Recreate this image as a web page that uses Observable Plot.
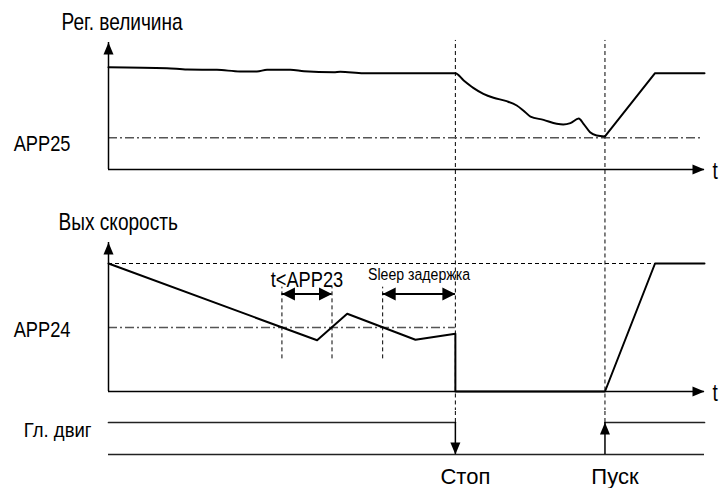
<!DOCTYPE html>
<html><head><meta charset="utf-8">
<script src="https://cdn.jsdelivr.net/npm/d3@7"></script>
<script src="https://cdn.jsdelivr.net/npm/@observablehq/plot@0.6"></script>
<style>
body{margin:0;background:#fff}
#chart svg{display:block}
</style></head><body><div id="chart"></div>
<script>
// ---- data (time in arbitrary units 0..100) ----
const tStop = 58.2, tStart = 83.3, tEnd = 100;
const eventTimes = [tStop, tStart];
const eventLabels = ["Стоп", "Пуск"];

// Panel 1: regulated value
const regSmooth = [
  [0,80.6],[9.8,79.8],[13.2,78.7],[18.2,78.5],[22.1,77.2],[24.9,77.2],[26.6,78.5],[30.5,78.5],
  [32.8,77.4],[37.8,76.6],[38.9,76.9],[42.8,75.8],[58.2,75.8],[59.6,70.1],[61.2,64.3],[62.9,59.6],
  [64.6,56.5],[66.8,53.8],[68.5,50.4],[69.6,46.5],[70.8,41.7],[73.0,39.1],[75.2,36.0],[76.3,35.4],
  [77.5,36.5],[78.9,40.2],[79.7,36.0],[80.8,29.4],[81.9,26.8],[83.3,26.0]
].map(([t,v]) => ({t,v}));
const regRamp = [[83.3,26.0],[91.7,75.8],[100,75.8]].map(([t,v]) => ({t,v}));
const app25 = 25;
const regAxisMax = 100;

// Panel 2: output speed
const speedLine = [[0,100],[35.0,40],[40.05,60.7],[51.5,40.4],[58.2,45.1],[58.2,0],[83.3,0],[91.7,100],[100,100]]
  .map(([t,v]) => ({t,v}));
const speedMax = 100, app24 = 50, speedAxisMax = 116.4;
const app23Span = [29.1, 37.5];
const sleepSpan = [46.0, 58.2];
const spanArrowLevel = 76.2;
const spanGuideRange = [25.5, 81.5];

// Panel 3: main motor (1 = on, 0 = off)
const motorOn = [{t:0,v:1,s:"a"},{t:58.2,v:1,s:"a"},{t:83.3,v:1,s:"b"},{t:100,v:1,s:"b"}];

// ---- styles ----
const narrow = "Liberation Sans, Arial, sans-serif";
const semi = "Liberation Sans,Arial,sans-serif";
const regular = "'Liberation Sans', Arial, sans-serif";
const headSym = (len, half) => ({draw(ctx){ctx.moveTo(0,0);ctx.lineTo(half,len);ctx.lineTo(-half,len);ctx.closePath();}});
const head = headSym(12, 5);
const bigHead = headSym(13, 6.5);
const dashDot = "9,3,2,3";
const common = {width: 726, marginLeft: 108, marginRight: 22, x: {domain: [0, tEnd], axis: null}};

// ---- panel 1 ----
const p1 = Plot.plot({
  ...common, height: 200, marginTop: 42, marginBottom: 31,
  y: {domain: [0, regAxisMax], axis: null},
  marks: [
    Plot.ruleX(eventTimes, {y1: -26, y2: 101.6, stroke: "#000", strokeWidth: 1, strokeDasharray: "4,3"}),
    Plot.ruleY([app25], {x1: 0, x2: 99.5, stroke: "#555", strokeWidth: 1.3, strokeDasharray: dashDot}),
    Plot.ruleX([0], {y1: 0, y2: regAxisMax, stroke: "#000", strokeWidth: 1.5}),
    Plot.ruleY([0], {x1: 0, x2: tEnd, stroke: "#000", strokeWidth: 1.5}),
    Plot.dot([{t:0,v:regAxisMax}], {x:"t", y:"v", symbol: head, r: 5, fill: "#000", stroke: null, rotate: 0}),
    Plot.dot([{t:tEnd,v:0}], {x:"t", y:"v", symbol: head, r: 5, fill: "#000", stroke: null, rotate: 90}),
    Plot.line(regSmooth, {x:"t", y:"v", curve: "monotone-x", stroke: "#000", strokeWidth: 2}),
    Plot.line(regRamp, {x:"t", y:"v", stroke: "#000", strokeWidth: 2}),
    Plot.text(["Рег. величина"], {x: 0, y: regAxisMax, dx: -47, dy: -13, textAnchor: "start", lineAnchor: "bottom", fontFamily: narrow, fontSize: 23, fill: "#000"}),
    Plot.text(["APP25"], {x: 0, y: app25, dx: -38, dy: 6, textAnchor: "end", lineAnchor: "middle", fontFamily: narrow, fontSize: 22, fill: "#000"}),
    Plot.text(["t"], {x: tEnd, y: 0, dx: 8, dy: 2, textAnchor: "start", lineAnchor: "middle", fontFamily: narrow, fontSize: 23, fill: "#000"})
  ]
});

// ---- panel 2 ----
const p2 = Plot.plot({
  ...common, height: 210, marginTop: 63, marginBottom: 19,
  y: {domain: [0, speedMax], axis: null},
  marks: [
    Plot.ruleX(eventTimes, {y1: -16, y2: 150, stroke: "#000", strokeWidth: 1, strokeDasharray: "4,3"}),
    Plot.ruleY([speedMax], {x1: 0, x2: tEnd, stroke: "#000", strokeWidth: 1, strokeDasharray: "4,3"}),
    Plot.ruleY([app24], {x1: 0, x2: tStop, stroke: "#555", strokeWidth: 1.3, strokeDasharray: dashDot}),
    Plot.ruleX([...app23Span, sleepSpan[0]], {y1: spanGuideRange[0], y2: spanGuideRange[1], stroke: "#000", strokeWidth: 1, strokeDasharray: "4,3"}),
    Plot.ruleY([app23Span, sleepSpan], {y: () => spanArrowLevel, x1: d => d[0], x2: d => d[1], stroke: "#000", strokeWidth: 2}),
    Plot.dot([app23Span[0], sleepSpan[0]], {x: d => d, y: () => spanArrowLevel, symbol: bigHead, r: 5, fill: "#000", stroke: null, rotate: -90}),
    Plot.dot([app23Span[1], sleepSpan[1]], {x: d => d, y: () => spanArrowLevel, symbol: bigHead, r: 5, fill: "#000", stroke: null, rotate: 90}),
    Plot.ruleX([0], {y1: 0, y2: speedAxisMax, stroke: "#000", strokeWidth: 1.5}),
    Plot.ruleY([0], {x1: 0, x2: tEnd, stroke: "#000", strokeWidth: 1.5}),
    Plot.dot([{t:0,v:speedAxisMax}], {x:"t", y:"v", symbol: head, r: 5, fill: "#000", stroke: null, rotate: 0}),
    Plot.dot([{t:tEnd,v:0}], {x:"t", y:"v", symbol: head, r: 5, fill: "#000", stroke: null, rotate: 90}),
    Plot.line(speedLine, {x:"t", y:"v", stroke: "#000", strokeWidth: 2}),
    Plot.text(["Вых скорость"], {x: 0, y: speedAxisMax, dx: -50, dy: -13, textAnchor: "start", lineAnchor: "bottom", fontFamily: narrow, fontSize: 23, fill: "#000"}),
    Plot.text(["APP24"], {x: 0, y: app24, dx: -38, dy: 2, textAnchor: "end", lineAnchor: "middle", fontFamily: narrow, fontSize: 22, fill: "#000"}),
    Plot.text(["t<APP23"], {x: (app23Span[0] + app23Span[1]) / 2, y: spanArrowLevel, dy: -14, textAnchor: "middle", lineAnchor: "middle", fontFamily: narrow, fontSize: 22, fill: "#000"}),
    Plot.text(["Sleep задержка"], {x: (sleepSpan[0] + sleepSpan[1]) / 2, y: spanArrowLevel, dy: -19, textAnchor: "middle", lineAnchor: "middle", fontFamily: narrow, fontSize: 17, fill: "#000"}),
    Plot.text(["t"], {x: tEnd, y: 0, dx: 8, dy: 2, textAnchor: "start", lineAnchor: "middle", fontFamily: narrow, fontSize: 23, fill: "#000"})
  ]
});

// ---- panel 3 ----
const p3 = Plot.plot({
  ...common, height: 78, marginTop: 12, marginBottom: 34,
  y: {domain: [0, 1], axis: null},
  marks: [
    Plot.ruleX(eventTimes, {y1: 1, y2: 1.5, stroke: "#000", strokeWidth: 1, strokeDasharray: "4,3"}),
    Plot.line(motorOn, {x:"t", y:"v", z:"s", stroke: "#222", strokeWidth: 1.7}),
    Plot.ruleY([0], {x1: 0, x2: tEnd, stroke: "#222", strokeWidth: 1.7}),
    Plot.ruleX(eventTimes, {y1: 0, y2: 1, stroke: "#000", strokeWidth: 1.5}),
    Plot.dot([{t:tStop,v:0}], {x:"t", y:"v", symbol: head, r: 5, fill: "#000", stroke: null, rotate: 180}),
    Plot.dot([{t:tStart,v:1}], {x:"t", y:"v", symbol: head, r: 5, fill: "#000", stroke: null, rotate: 0}),
    Plot.text(["Гл. двиг"], {x: 0, y: 1, dx: -17, dy: 8, textAnchor: "end", lineAnchor: "middle", fontFamily: semi, fontSize: 21, fill: "#000"}),
    Plot.text(eventTimes, {x: d => d, y: () => 0, text: (d, i) => eventLabels[i], dx: 10, dy: 22, textAnchor: "middle", lineAnchor: "middle", fontFamily: regular, fontSize: 22, fill: "#000"})
  ]
});

// condense labels horizontally (Arial Narrow look)
for (const svg of [p1, p2, p3]) {
  svg.querySelectorAll("g[font-family]").forEach(g => {
    const f = g.getAttribute("font-family");
    const s = f === narrow ? 0.83 : f === semi ? 0.88 : null;
    if (s == null) return;
    g.querySelectorAll("text").forEach(t => t.setAttribute("transform", (t.getAttribute("transform") || "") + ` scale(${s},1)`));
  });
}

const root = document.getElementById("chart");
root.append(p1, p2, p3);
</script></body></html>
